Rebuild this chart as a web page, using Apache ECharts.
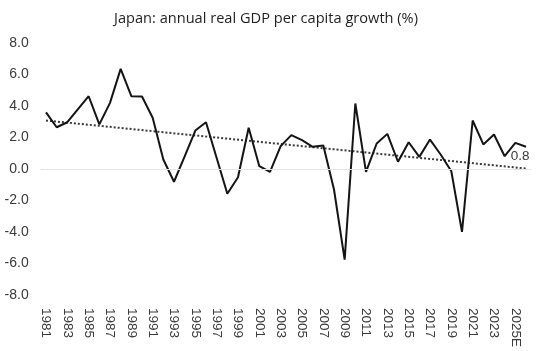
<!DOCTYPE html>
<html>
<head>
<meta charset="utf-8">
<script src="https://cdn.jsdelivr.net/npm/echarts@6/dist/echarts.min.js"></script>
<style>
  html, body { margin: 0; padding: 0; background: #fff; }
  #chart { width: 540px; height: 351px; }
</style>
</head>
<body>
<div id="chart"></div>
<script>
const years = [
  '1981', '1982', '1983', '1984', '1985', '1986', '1987', '1988', '1989', '1990',
  '1991', '1992', '1993', '1994', '1995', '1996', '1997', '1998', '1999', '2000',
  '2001', '2002', '2003', '2004', '2005', '2006', '2007', '2008', '2009', '2010',
  '2011', '2012', '2013', '2014', '2015', '2016', '2017', '2018', '2019', '2020',
  '2021', '2022', '2023', '2024', '2025E', '2026E'
];

// annual real GDP per capita growth, %
const growth = [
  3.6, 2.65, 2.97, 3.8, 4.62, 2.83, 4.2, 6.36, 4.62, 4.6,
  3.25, 0.6, -0.81, 0.8, 2.44, 2.97, 0.7, -1.57, -0.52, 2.62,
  0.18, -0.18, 1.45, 2.15, 1.83, 1.41, 1.49, -1.3, -5.75, 4.16,
  -0.18, 1.62, 2.23, 0.46, 1.7, 0.77, 1.87, 0.92, -0.14, -3.99,
  3.08, 1.56, 2.19, 0.81, 1.66, 1.41
];

// linear trend, end points only
const trendStart = 3.08;
const trendEnd = 0.03;

const labelIndex = 43;   // point carrying the "0.8" label
const yTicks = { min: -8, max: 8, step: 2 };

const trend = years.map((_, i) => i === 0 ? trendStart : (i === years.length - 1 ? trendEnd : null));

const labelFont = "'Liberation Sans', Arial, sans-serif";

const chart = echarts.init(document.getElementById('chart'));

chart.setOption({
  animation: false,
  title: {
    text: 'Japan: annual real GDP per capita growth (%)',
    left: 261,
    top: 6,
    textAlign: 'center',
    textStyle: {
      fontFamily: 'Open Sans',
      fontSize: 14.6,
      fontWeight: 'normal',
      color: '#1f1f1f'
    }
  },
  grid: {
    left: 40.67,
    right: 8.67,
    top: 43,
    bottom: 56
  },
  xAxis: {
    type: 'category',
    data: years,
    boundaryGap: true,
    axisLine: { show: false },
    axisTick: { show: false },
    splitLine: { show: false },
    axisLabel: {
      interval: 1,
      rotate: -90,
      margin: 13,
      fontFamily: labelFont,
      fontSize: 13.5,
      color: '#3a3a3a'
    }
  },
  yAxis: {
    type: 'value',
    min: yTicks.min,
    max: yTicks.max,
    interval: yTicks.step,
    axisLine: { show: false },
    axisTick: { show: false },
    splitLine: { show: false },
    axisLabel: {
      margin: 12,
      fontFamily: labelFont,
      fontSize: 14,
      color: '#3a3a3a',
      formatter: v => v.toFixed(1)
    }
  },
  series: [
    {
      type: 'line',
      data: growth.map((v, i) => i === labelIndex ? {
        value: v,
        symbol: 'circle',
        symbolSize: 0,
        label: {
          show: true,
          position: 'right',
          distance: 6,
          formatter: () => v.toFixed(1),
          fontFamily: labelFont,
          fontSize: 13.5,
          color: '#3a3a3a'
        }
      } : v),
      symbol: 'none',
      showSymbol: true,
      lineStyle: { color: '#141414', width: 2 },
      z: 3,
      markLine: {
        silent: true,
        symbol: 'none',
        label: { show: false },
        lineStyle: { color: '#e4e4e4', width: 1, type: 'solid' },
        data: [{ yAxis: 0 }]
      }
    },
    {
      type: 'line',
      data: trend,
      connectNulls: true,
      symbol: 'none',
      lineStyle: { color: '#3a3a3a', width: 2, type: [2, 2] },
      z: 2
    }
  ]
});
</script>
</body>
</html>
